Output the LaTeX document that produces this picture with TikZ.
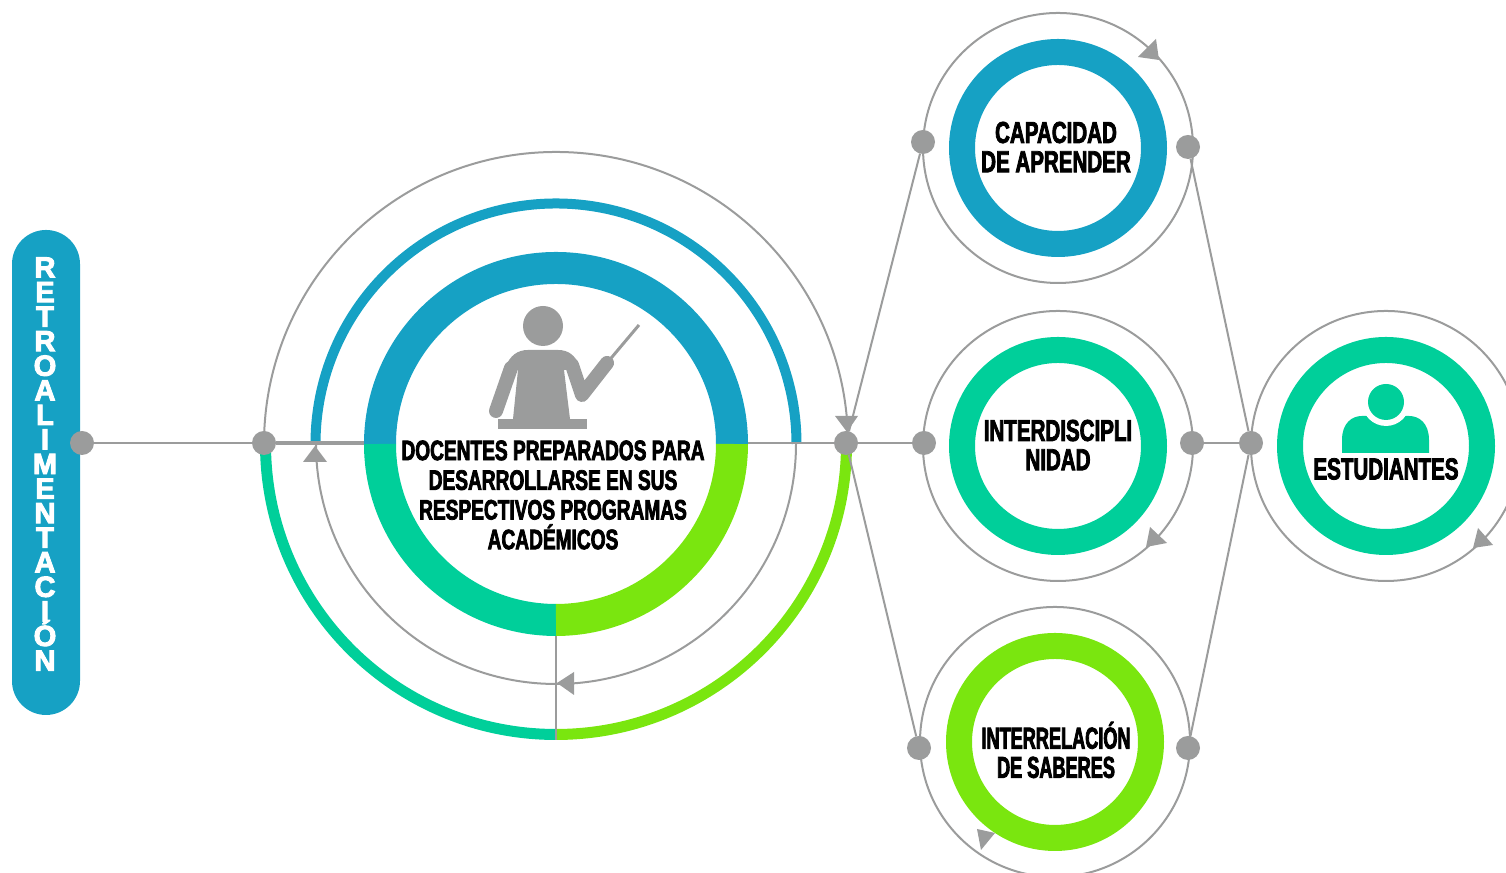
\documentclass[tikz,border=0pt]{standalone}
\usepackage{fontspec}
\usepackage{tikz}
\newfontfamily\heavyfont[UprightFont=* Bold, FakeStretch=0.68, FakeBold=2.6]{Liberation Sans}
\newfontfamily\narrowfont[UprightFont=* Bold, FakeStretch=0.60, FakeBold=2.6]{Liberation Sans}
\newfontfamily\letterfont[UprightFont=* Bold, FakeBold=3.2]{Liberation Sans}
\lineskiplimit=-10pt

\tikzset{
    guide/.style={draw=Gcolor, line width=0.02cm},
    trunk/.style={draw=Gcolor, line width=0.035cm},
    dotnode/.style={circle, fill=Gcolor, minimum size=0.24cm, inner sep=0pt, outer sep=0pt},
    ringbox/.style={circle, draw=#1, line width=0.26cm, minimum size=1.92cm, inner sep=0pt, outer sep=0pt},
    maintxt/.style={align=center, text=black, font=\heavyfont\fontsize{8}{8.45}\selectfont},
    ringtxt/.style={align=center, text=black, font=\heavyfont\fontsize{8.6}{8.3}\selectfont},
    narrowtxt/.style={align=center, text=black, font=\narrowfont\fontsize{8.6}{8.3}\selectfont},
}

\begin{document}
\begin{tikzpicture}

    % Colores
    \definecolor{Bcolor}{RGB}{22,161,196}
    \definecolor{Tcolor}{RGB}{0,207,154}
    \definecolor{Lcolor}{RGB}{122,230,15}
    \definecolor{Gcolor}{RGB}{155,156,156}

    \useasboundingbox (0,0) rectangle (15.06,8.73);

    % --- 1. LA BARRA IZQUIERDA ---
    \node[fill=Bcolor, rounded corners=0.34cm, minimum width=0.68cm, minimum height=4.85cm, inner sep=0pt] (barra) at (0.46,4.005) {};
    \node[align=center, text=white, font=\letterfont\fontsize{8.3}{6.99}\selectfont] (barratxt) at (0.45,4.09)
        {R\\E\\T\\R\\O\\A\\L\\I\\M\\E\\N\\T\\A\\C\\I\\Ó\\N};

    % --- 2. EL CIRCULO CENTRAL ---
    \coordinate (centro) at (5.56,4.29);

    % Arcos grises
    \draw[guide] (centro) ++(180:2.92) arc[start angle=180, end angle=0, radius=2.92];
    \draw[guide] (centro) ++(0:2.40) arc[start angle=0, end angle=-180, radius=2.40];

    % Arcos de color: externo, medio y anillo grueso
    \draw[Bcolor, line width=0.10cm] (centro) ++(0:2.405) arc[start angle=0, end angle=180, radius=2.405];
    \foreach \col/\ini/\fin in {Bcolor/0/180, Tcolor/180/270, Lcolor/270/360} {
        \draw[\col, line width=0.32cm] (centro) ++(\ini:1.76) arc[start angle=\ini, end angle=\fin, radius=1.76];
    }
    \foreach \col/\ini/\fin in {Tcolor/180/270, Lcolor/270/360} {
        \draw[\col, line width=0.11cm] (centro) ++(\ini:2.905) arc[start angle=\ini, end angle=\fin, radius=2.905];
    }

    % Docente
    \fill[Gcolor] (5.43,5.47) circle (0.20);
    \fill[Gcolor] (5.13,4.54) -- (5.18,5.03) -- (5.05,5.05) .. controls (5.10,5.18) and (5.18,5.23) .. (5.28,5.23) -- (5.58,5.23) .. controls (5.68,5.23) and (5.76,5.18) .. (5.80,5.05) -- (5.64,5.03) -- (5.70,4.54) -- cycle;
    \draw[Gcolor, line width=0.14cm, line cap=round] (5.11,5.05) -- (4.96,4.62);
    \draw[Gcolor, line width=0.14cm, line cap=round, line join=round] (5.72,5.08) -- (5.82,4.78) -- (6.07,5.10);
    \draw[Gcolor, line width=0.03cm] (6.07,5.10) -- (6.39,5.48);
    \fill[Gcolor] (4.98,4.44) rectangle (5.87,4.54);

    \node[maintxt] (docentes) at (5.53,3.78) {DOCENTES PREPARADOS PARA\\DESARROLLARSE EN SUS\\RESPECTIVOS PROGRAMAS\\ACADÉMICOS};

    % --- 3. LOS ANILLOS DE LA DERECHA ---
    \node[ringbox=Bcolor] (capacidad) at (10.58,7.25) {};
    \node[ringbox=Tcolor] (inter) at (10.58,4.27) {};
    \node[ringbox=Lcolor] (saberes) at (10.55,1.31) {};
    \node[ringbox=Tcolor] (estudiantes) at (13.86,4.27) {};

    \foreach \ring in {capacidad, inter, saberes, estudiantes} {
        \draw[guide] (\ring.center) circle (1.35);
    }

    \node[ringtxt] (capacidadtxt) at (10.56,7.26) {CAPACIDAD\\DE APRENDER};
    \node[ringtxt] (intertxt) at (10.58,4.28) {INTERDISCIPLI\\NIDAD};
    \node[narrowtxt] (saberestxt) at (10.56,1.23) {INTERRELACIÓN\\DE SABERES};
    \node[ringtxt] (estudiantestxt) at (13.86,4.04) {ESTUDIANTES};

    % Estudiante
    \fill[Tcolor] (13.42,4.20) -- (13.42,4.33) .. controls (13.42,4.50) and (13.52,4.57) .. (13.62,4.57) -- (14.09,4.57) .. controls (14.19,4.57) and (14.29,4.50) .. (14.29,4.33) -- (14.29,4.20) -- cycle;
    \fill[white] (13.86,4.71) circle (0.24);
    \fill[Tcolor] (13.86,4.71) circle (0.18);

    % --- 4. PUNTOS Y CONEXIONES ---
    \node[dotnode] (retro) at (0.82,4.30) {};
    \node[dotnode] (izq) at (2.64,4.30) {};
    \node[dotnode] (hub) at (8.46,4.30) {};
    \node[dotnode] (capa) at (9.23,7.31) {};
    \node[dotnode] (capb) at (11.88,7.26) {};
    \node[dotnode] (intera) at (9.24,4.30) {};
    \node[dotnode] (interb) at (11.92,4.30) {};
    \node[dotnode] (sabera) at (9.19,1.25) {};
    \node[dotnode] (saberb) at (11.88,1.25) {};
    \node[dotnode] (estu) at (12.51,4.30) {};

    \coordinate (anilloizq) at (3.64,4.30);
    \coordinate (anilloder) at (7.48,4.30);
    \coordinate (anillobajo) at (5.56,2.37);
    \coordinate (arcobajo) at (5.56,1.33);

    \draw[guide] (retro) -- (izq);
    \draw[trunk] (izq) -- (anilloizq);
    \draw[guide] (anilloder) -- (hub);
    \draw[guide] (anillobajo) -- (arcobajo);
    \foreach \a/\b in {hub/intera, hub/capa, hub/sabera, capb/estu, interb/estu, saberb/estu} {
        \draw[guide] (\a) -- (\b);
    }

    % Puntas de flecha
    \foreach \pa/\pb/\pc in {
        {11.56,8.34}/{11.38,8.16}/{11.59,8.13},
        {11.50,3.46}/{11.46,3.26}/{11.67,3.30},
        {9.77,0.44}/{9.81,0.23}/{9.95,0.40},
        {8.35,4.57}/{8.58,4.57}/{8.47,4.41},
        {3.03,4.11}/{3.27,4.11}/{3.15,4.27},
        {5.74,2.01}/{5.74,1.78}/{5.57,1.90},
        {14.93,3.28}/{14.78,3.45}/{14.73,3.25}} {
        \fill[Gcolor] (\pa) -- (\pb) -- (\pc) -- cycle;
    }

\end{tikzpicture}
\end{document}
